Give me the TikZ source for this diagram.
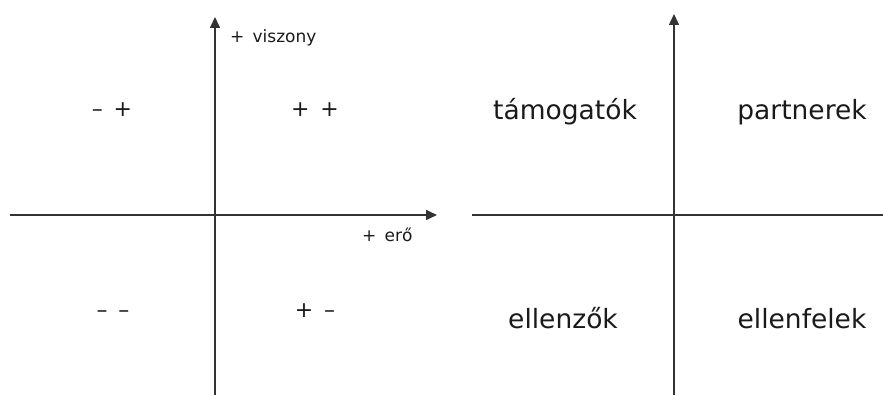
\documentclass[tikz,border=0pt]{standalone}
\usepackage{fontspec}
\setmainfont{DejaVu Sans}
\usetikzlibrary{arrows.meta}
\definecolor{axisgray}{HTML}{333333}
\definecolor{textgray}{HTML}{1A1A1A}
\tikzset{
  axis/.style={line width=1.6pt, draw=axisgray},
  smalllabel/.style={inner sep=0pt, anchor=base west, text=textgray, font=\fontsize{17}{20}\selectfont},
  signlabel/.style={inner sep=0pt, anchor=base, text=textgray, font=\fontsize{22}{24}\selectfont},
  biglabel/.style={inner sep=0pt, anchor=base, text=textgray, font=\fontsize{26.5}{30}\selectfont},
}
\begin{document}
\begin{tikzpicture}[x=1pt, y=-1pt, >={Triangle[length=11pt, width=10pt]}]
    \useasboundingbox (0,0) rectangle (883,395);

    % left diagram: axes
    \coordinate (lbottom) at (215,395);
    \coordinate (ltop) at (215,17);
    \coordinate (lleft) at (10,215);
    \coordinate (lright) at (437,215);
    \draw[axis, ->] (lbottom) -- (ltop);
    \draw[axis, ->] (lleft) -- (lright);

    \node[smalllabel] (viszony) at (230,43) {+ \,viszony};
    \node[smalllabel] (ero) at (362,242) {+ \,erő};

    \node[signlabel] (mp) at (112,117) {– \,+};
    \node[signlabel] (pp) at (315,117) {+ \,+};
    \node[signlabel] (mm) at (113,317) {– \,–};
    \node[signlabel] (pm) at (315,317) {+ \,–};

    % right diagram: axes
    \coordinate (rbottom) at (674,395);
    \coordinate (rtop) at (674,14);
    \coordinate (rleft) at (472,215);
    \coordinate (rright) at (883,215);
    \draw[axis, ->] (rbottom) -- (rtop);
    \draw[axis] (rleft) -- (rright);

    \node[biglabel] (tamogatok) at (565,120) {támogatók};
    \node[biglabel] (partnerek) at (802,120) {partnerek};
    \node[biglabel] (ellenzok) at (563,328) {ellenzők};
    \node[biglabel] (ellenfelek) at (802,328) {ellenfelek};
\end{tikzpicture}
\end{document}
